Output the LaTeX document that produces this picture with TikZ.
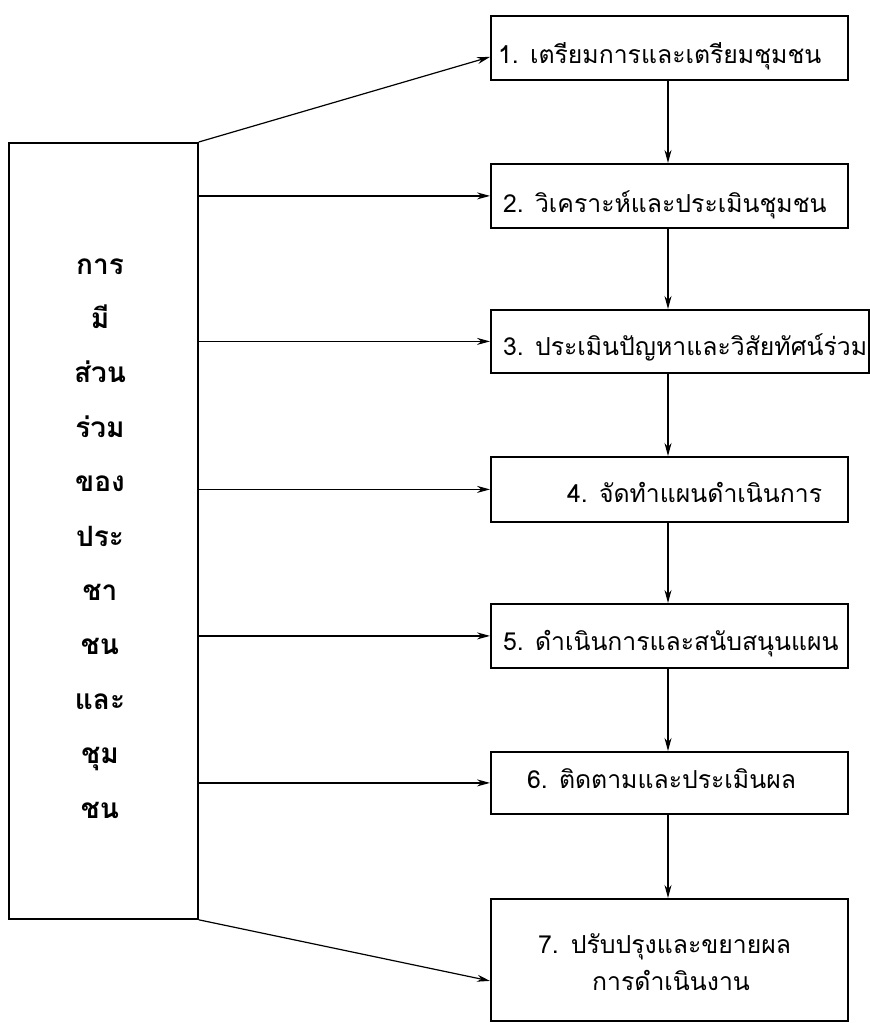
\documentclass[tikz,border=0pt]{standalone}
\usepackage{fontspec}
\newfontfamily\thai[Script=Thai]{Loma}
\usetikzlibrary{arrows.meta}
\begin{document}
\begin{tikzpicture}[x=1pt,y=-1pt,
  box/.style={draw, line width=1.8pt, rectangle, inner sep=0pt, anchor=north west},
  lbl/.style={font=\thai\fontsize{24.8}{30}\selectfont, anchor=base west, inner sep=0pt},
  side/.style={font=\thai\bfseries\fontsize{28}{32}\selectfont, anchor=base, inner sep=0pt},
  arr/.style={-{Stealth[length=13pt,width=7pt]}, line width=1.2pt}]
\useasboundingbox (0,0) rectangle (870,1023);
% left box
\node[box, minimum width=189pt, minimum height=776pt] (L) at (8,142) {};
% step boxes
\node[box, minimum width=357pt, minimum height=64pt] (b1) at (490,15) {};
\node[box, minimum width=357pt, minimum height=64pt] (b2) at (490,163) {};
\node[box, minimum width=378pt, minimum height=63pt] (b3) at (490,309) {};
\node[box, minimum width=357pt, minimum height=65pt] (b4) at (490,456) {};
\node[box, minimum width=357pt, minimum height=64pt] (b5) at (490,603) {};
\node[box, minimum width=357pt, minimum height=62pt] (b6) at (490,751) {};
\node[box, minimum width=357pt, minimum height=122pt] (b7) at (490,898) {};
% step texts
\node[lbl] (t1) at (498,63) {1. เตรียมการและเตรียมชุมชน};
\node[lbl] (t2) at (503,212) {2. วิเคราะห์และประเมินชุมชน};
\node[lbl] (t3) at (503,355) {3. ประเมินปัญหาและวิสัยทัศน์ร่วม};
\node[lbl] (t4) at (567,502) {4. จัดทำแผนดำเนินการ};
\node[lbl] (t5) at (503,650) {5. ดำเนินการและสนับสนุนแผน};
\node[lbl] (t6) at (527,788) {6. ติดตามและประเมินผล};
\node[lbl] (t7a) at (538,953) {7.\hspace{12pt}ปรับปรุงและขยายผล};
\node[lbl] (t7b) at (592,990) {การดำเนินงาน};
% side texts
\node[side] (s1) at (100,274.0) {การ};
\node[side] (s2) at (100,328.4) {มี};
\node[side] (s3) at (100,382.8) {ส่วน};
\node[side] (s4) at (100,437.2) {ร่วม};
\node[side] (s5) at (100,491.6) {ของ};
\node[side] (s6) at (100,546.0) {ประ};
\node[side] (s7) at (100,600.4) {ชา};
\node[side] (s8) at (100,654.8) {ชน};
\node[side] (s9) at (100,709.2) {และ};
\node[side] (s10) at (100,763.6) {ชุม};
\node[side] (s11) at (100,818.0) {ชน};
% arrows from left box
\coordinate (e1) at ([yshift=-9pt]b1.west);
\coordinate (e7) at ([yshift=-21pt]b7.west);
\draw[arr] (L.north east) -- (e1);
\draw[arr] (L.east |- b2.west) -- (b2.west);
\draw[arr] (L.east |- b3.west) -- (b3.west);
\draw[arr] (L.east |- b4.west) -- (b4.west);
\draw[arr] (L.east |- b5.west) -- (b5.west);
\draw[arr] (L.east |- b6.west) -- (b6.west);
\draw[arr] (L.south east) -- (e7);
% vertical arrows
\coordinate (vx) at (668,0);
\draw[arr] (vx |- b1.south) -- (vx |- b2.north);
\draw[arr] (vx |- b2.south) -- (vx |- b3.north);
\draw[arr] (vx |- b3.south) -- (vx |- b4.north);
\draw[arr] (vx |- b4.south) -- (vx |- b5.north);
\draw[arr] (vx |- b5.south) -- (vx |- b6.north);
\draw[arr] (vx |- b6.south) -- (vx |- b7.north);
\end{tikzpicture}
\end{document}
